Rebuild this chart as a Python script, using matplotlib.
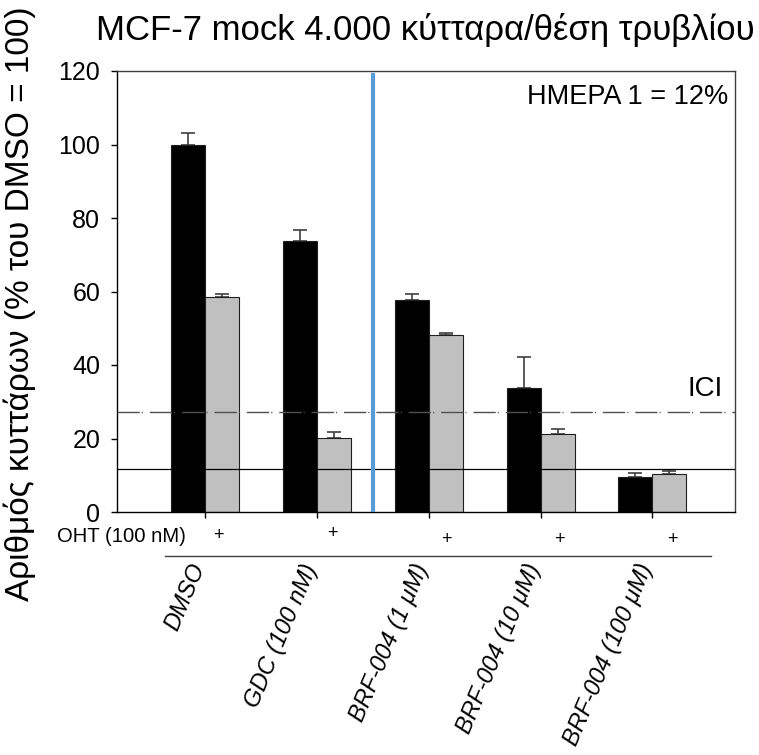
import matplotlib
matplotlib.use('Agg')
import matplotlib.pyplot as plt
import matplotlib.transforms as mtransforms
import numpy as np
from matplotlib.lines import Line2D

plt.rcParams['font.family'] = ['Liberation Sans', 'DejaVu Sans']

# values
categories = ['DMSO', 'GDC (100 nM)', 'BRF-004 (1 μM)', 'BRF-004 (10 μM)', 'BRF-004 (100 μM)']
black_vals = [100.0, 73.7, 57.6, 33.8, 9.5]
black_err = [3.0, 3.0, 1.6, 8.4, 1.0]
gray_vals = [58.5, 20.1, 48.2, 21.1, 10.4]
gray_err = [0.9, 1.7, 0.4, 1.4, 0.7]
oht_marks = ['+', '+', '+', '+', '+']
ici_level = 27.2
day1_level = 11.7
divider_x = 1.5

W, H = 759, 755
fig = plt.figure(figsize=(W / 100, H / 100), dpi=100)


def px(x, y):
    # pixel position -> figure fraction
    return x / W, 1 - y / H


ax = fig.add_axes([117 / W, 1 - 512 / H, (735 - 117) / W, (512 - 71) / H])

x = np.arange(len(categories))
bw = 0.304
ax.bar(x - bw / 2, black_vals, bw, color='black', edgecolor='#202020', linewidth=0.8, zorder=2)
ax.bar(x + bw / 2, gray_vals, bw, color='#C0C0C0', edgecolor='#202020', linewidth=0.8, zorder=2)
ax.errorbar(x - bw / 2, black_vals, yerr=[np.zeros(len(x)), black_err], fmt='none',
            ecolor='#404040', elinewidth=1.2, capsize=4.7, capthick=1.2, zorder=1)
ax.errorbar(x + bw / 2, gray_vals, yerr=[np.zeros(len(x)), gray_err], fmt='none',
            ecolor='#404040', elinewidth=1.2, capsize=4.7, capthick=1.2, zorder=1)

ax.axhline(ici_level, color='#505050', linewidth=1.0, dashes=(16, 1.5, 0.8, 5), zorder=3)
ax.axhline(day1_level, color='black', linewidth=0.9, zorder=3)
ax.axvline(divider_x, ymin=0.005, ymax=0.99, color='#5B9BD5', linewidth=3.0, zorder=4)

ax.set_xlim(-0.79, 4.74)
ax.set_ylim(0, 120)
ax.set_yticks(np.arange(0, 121, 20))
ax.tick_params(axis='y', direction='out', length=4, width=1, labelsize=18, pad=8)
ax.set_xticks(x, categories, rotation=67, ha='right', va='center',
              rotation_mode='anchor', style='italic', fontsize=17)
ax.tick_params(axis='x', direction='out', length=4, width=1, pad=34)
shift = mtransforms.ScaledTranslation(-6 / 100, 0, fig.dpi_scale_trans)
for lbl in ax.get_xticklabels():
    lbl.set_transform(lbl.get_transform() + shift)
for side in ['top', 'right']:
    ax.spines[side].set_color('#404040')
for sp in ax.spines.values():
    sp.set_linewidth(1.0)

ax.text(0.9887, 0.941, 'HMEPA 1 = 12%', transform=ax.transAxes, ha='right', va='center', fontsize=19.5)
ax.text(0.98, 0.279, 'ICI', transform=ax.transAxes, ha='right', va='center', fontsize=20)

ax.set_ylabel('Αριθμός κυττάρων (% του DMSO = 100)', fontsize=24)
ax.yaxis.set_label_coords(-0.131, 0.472)
fig.text(*px(425, 30), 'MCF-7 mock 4.000 κύτταρα/θέση τρυβλίου', ha='center', va='center', fontsize=25)

fig.text(*px(186, 537), 'OHT (100 nM)', ha='right', va='center', fontsize=14.6)
plus_offsets = [0.12, 1.14, 2.16, 3.17, 4.18]
plus_y = [536, 533, 539, 539, 539]
for xo, yy, m in zip(plus_offsets, plus_y, oht_marks):
    xd = ax.transData.transform((xo, 0))[0]
    fig.text(xd / W, 1 - yy / H, m, ha='center', va='center', fontsize=13)

fig.add_artist(Line2D([165 / W, 711 / W], [1 - 556 / H, 1 - 556 / H], color='#404040', linewidth=1.0))

fig.savefig('out.png', dpi=100)
